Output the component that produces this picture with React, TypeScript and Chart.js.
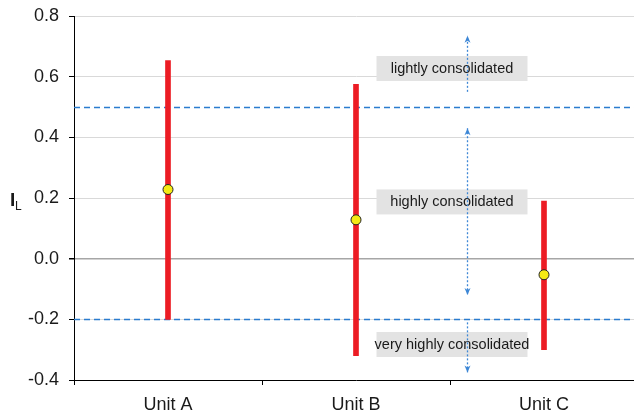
import React, { useEffect, useRef } from "react";
import { Chart, registerables } from "chart.js";

Chart.register(...registerables);

const categories = ["Unit A", "Unit B", "Unit C"];
const maxValues = [0.653, 0.575, 0.19];
const minValues = [-0.2, -0.32, -0.3];
const meanValues = [0.228, 0.128, -0.053];
const thresholds = [0.5, -0.2];
const zoneLabels = ["lightly consolidated", "highly consolidated", "very highly consolidated"];
const zoneLabelY = [0.627, 0.187, -0.283];
const zoneLabelX = 1.5;
const arrowX = 1.59;
// [from, to, doubleHeaded] - arrowhead at "to"
const arrowRanges: [number, number, boolean][] = [
  [0.55, 0.735, false],
  [0.43, -0.12, true],
  [-0.21, -0.375, false],
];
const yTicks = [-0.4, -0.2, 0.0, 0.2, 0.4, 0.6, 0.8];

const FONT = "'Liberation Sans', Arial, sans-serif";

const annotationPlugin = {
  id: "annot",
  beforeDatasetsDraw(chart: any) {
    const { ctx, chartArea, scales } = chart;
    const y = scales.y;
    ctx.save();
    ctx.strokeStyle = "#2a7ccf";
    ctx.lineWidth = 1.5;
    ctx.setLineDash([6, 4]);
    thresholds.forEach((t) => {
      const py = Math.round(y.getPixelForValue(t)) + 0.5;
      ctx.beginPath();
      ctx.moveTo(chartArea.left, py);
      ctx.lineTo(chartArea.right, py);
      ctx.stroke();
    });
    ctx.restore();
  },
  afterDatasetsDraw(chart: any) {
    const { ctx, scales } = chart;
    const x = scales.x;
    const y = scales.y;
    ctx.save();
    const boxW = 151;
    const boxH = 25;
    ctx.font = "14.5px " + FONT;
    ctx.textAlign = "center";
    ctx.textBaseline = "middle";
    zoneLabels.forEach((lab, i) => {
      const cx = x.getPixelForValue(zoneLabelX) + 2;
      const cy = y.getPixelForValue(zoneLabelY[i]);
      ctx.fillStyle = "#e3e3e3";
      ctx.fillRect(cx - boxW / 2, cy - boxH / 2, boxW, boxH);
      ctx.fillStyle = "#1a1a1a";
      ctx.fillText(lab, cx, cy + 0.5);
    });
    const ax = Math.round(x.getPixelForValue(arrowX)) + 0.5;
    ctx.strokeStyle = "#3d87d6";
    ctx.fillStyle = "#3d87d6";
    ctx.lineWidth = 1.3;
    const head = (px: number, py: number, dir: number) => {
      ctx.setLineDash([]);
      ctx.beginPath();
      ctx.moveTo(px, py);
      ctx.lineTo(px - 3, py - dir * 7);
      ctx.lineTo(px, py - dir * 5);
      ctx.lineTo(px + 3, py - dir * 7);
      ctx.closePath();
      ctx.fill();
    };
    arrowRanges.forEach(([from, to, both]) => {
      const y1 = y.getPixelForValue(from);
      const y2 = y.getPixelForValue(to);
      ctx.setLineDash([2, 2]);
      ctx.beginPath();
      ctx.moveTo(ax, y1);
      ctx.lineTo(ax, y2);
      ctx.stroke();
      const dir = y2 > y1 ? 1 : -1;
      head(ax, y2, dir);
      if (both) head(ax, y1, -dir);
    });
    ctx.restore();
  },
  afterDraw(chart: any) {
    const { ctx } = chart;
    ctx.save();
    ctx.fillStyle = "#1a1a1a";
    ctx.textBaseline = "alphabetic";
    ctx.textAlign = "left";
    ctx.font = "bold 19px " + FONT;
    ctx.fillText("I", 10, 206);
    ctx.font = "12px " + FONT;
    ctx.fillText("L", 15, 209.5);
    ctx.restore();
  },
};

export default function App() {
  const ref = useRef<HTMLCanvasElement | null>(null);
  useEffect(() => {
    if (!ref.current) return;
    const chart = new Chart(ref.current, {
      type: "bar",
      data: {
        labels: categories,
        datasets: [
          {
            type: "line",
            data: meanValues,
            showLine: false,
            pointRadius: 5,
            pointHoverRadius: 5,
            pointBackgroundColor: "#f5ea14",
            pointBorderColor: "#222",
            pointBorderWidth: 1,
            order: 0,
          } as any,
          {
            type: "bar",
            data: categories.map((_, i) => [minValues[i], maxValues[i]]),
            backgroundColor: "#ec1c24",
            borderWidth: 0,
            barThickness: 5,
            order: 1,
          } as any,
        ],
      },
      options: {
        animation: false,
        responsive: false,
        maintainAspectRatio: false,
        layout: { padding: { top: 16, right: 0, left: 0, bottom: 0 } },
        plugins: { legend: { display: false }, tooltip: { enabled: false } },
        scales: {
          x: {
            offset: true,
            grid: {
              offset: true,
              drawOnChartArea: false,
              drawTicks: true,
              tickLength: 5,
              tickColor: "#000",
            },
            border: { color: "#000", width: 1 },
            ticks: {
              color: "#1a1a1a",
              padding: 9,
              font: { family: FONT, size: 18 },
            },
            afterFit: (s: any) => {
              s.height = 33;
              s.paddingLeft = 0;
              s.paddingRight = 0;
            },
          },
          y: {
            min: -0.4,
            max: 0.8,
            afterBuildTicks: (s: any) => {
              s.ticks = yTicks.map((v) => ({ value: v }));
            },
            grid: {
              color: (c: any) => (c.tick && Math.abs(c.tick.value) < 1e-9 ? "#a6a6a6" : "#d9d9d9"),
              lineWidth: (c: any) => (c.tick && Math.abs(c.tick.value) < 1e-9 ? 1.5 : 1),
              tickLength: 5,
              tickColor: "#000",
            },
            border: { color: "#000", width: 1 },
            ticks: {
              color: "#1a1a1a",
              padding: 10,
              font: { family: FONT, size: 18 },
              callback: (v: any) => Number(v).toFixed(1),
            },
            afterFit: (s: any) => {
              s.width = 74;
              s.paddingTop = 0;
              s.paddingBottom = 0;
            },
          },
        },
      },
      plugins: [annotationPlugin],
    });
    return () => chart.destroy();
  }, []);
  return (
    <div style={{ position: "absolute", left: 0, top: 0, width: 634, height: 413, overflow: "hidden", background: "#fff" }}>
      <canvas ref={ref} width={644} height={413} style={{ display: "block", width: 644, height: 413 }} />
    </div>
  );
}
